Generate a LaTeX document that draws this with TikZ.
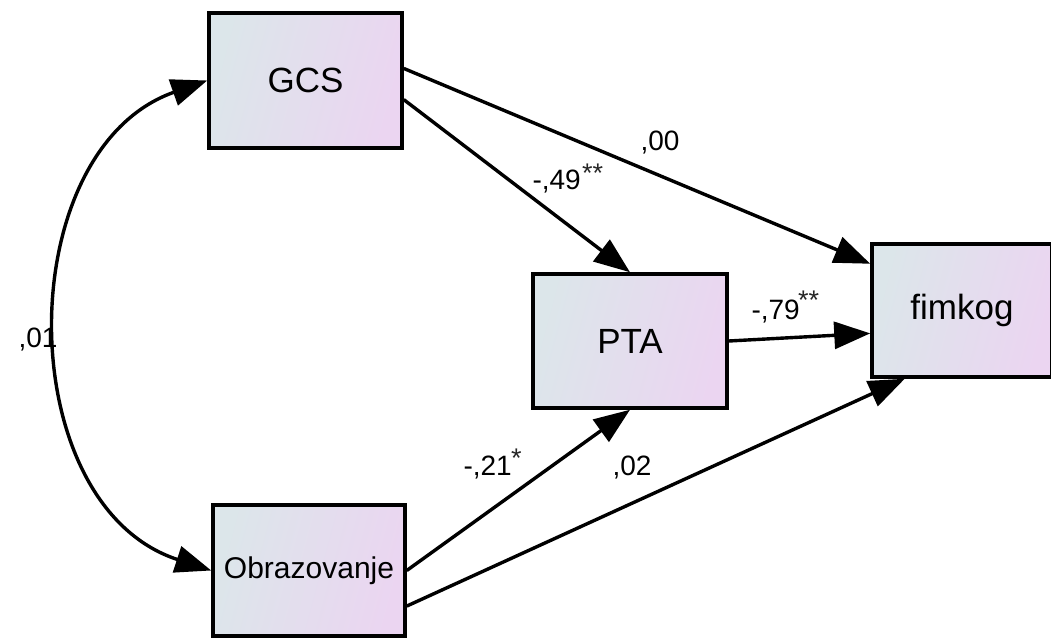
\documentclass[tikz,border=0pt]{standalone}
\usepackage{fontspec}
\setmainfont{Liberation Sans}
\usetikzlibrary{arrows.meta}
\definecolor{boxL}{HTML}{DCE6EA}
\definecolor{boxR}{HTML}{EBD5F1}
\tikzset{
  var/.style={draw=black, line width=3.5pt, left color=boxL, right color=boxR, shading angle=75, inner sep=0pt, font=\fontsize{35}{40}\selectfont},
  path/.style={line width=3.4pt, -{Triangle[length=36pt,width=27pt]}},
  coef/.style={font=\fontsize{28}{30}\selectfont, inner sep=0pt},
  star/.style={font=\fontsize{27}{30}\selectfont, inner sep=0pt, text=black!85},
}
\begin{document}
\begin{tikzpicture}[x=1pt,y=-1pt]
\useasboundingbox (0,0) rectangle (1051,639);
\node[var, minimum width=193pt, minimum height=135pt] (gcs) at (305.5,80.5) {GCS};
\node[var, minimum width=194pt, minimum height=134pt] (pta) at (630,341) {PTA};
\node[var, minimum width=180pt, minimum height=133pt] (fim) at (962,310.5) {fimkog};
\node[var, minimum width=192pt, minimum height=131pt, font=\fontsize{30}{34}\selectfont] (obr) at (309,570.5) {Obrazovanje};

\draw[path] (gcs.7) -- (fim.153);
\draw[path] (gcs.-11) -- (pta.north);
\draw[path] (pta.east) -- (fim.194);
\draw[path] (obr.east) -- (pta.south);
\draw[path] (obr.-20) -- (fim.230);
\draw[line width=3.4pt, {Triangle[length=36pt,width=27pt]}-{Triangle[length=36pt,width=27pt]}]
  (gcs.west) .. controls (10,150) and (10,505) .. (obr.west);

\node[coef] (c00) at (660,143) {,00};
\node[coef, anchor=east] (c49) at (581,182) {-,49};
\node[star, anchor=north west] (c49s) at (582,164) {**};
\node[coef, anchor=east] (c79) at (800,312) {-,79};
\node[star, anchor=north west] (c79s) at (798,291) {**};
\node[coef] (c01) at (38,340) {,01};
\node[coef, anchor=east] (c21) at (512,468) {-,21};
\node[star, anchor=north west] (c21s) at (511,449) {*};
\node[coef] (c02) at (632,468) {,02};
\end{tikzpicture}
\end{document}
